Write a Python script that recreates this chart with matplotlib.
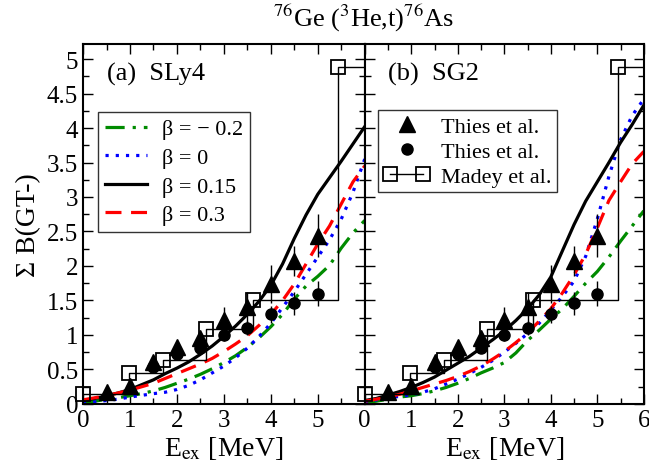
import numpy as np
import matplotlib
matplotlib.use("Agg")
import matplotlib.pyplot as plt
from matplotlib.ticker import MultipleLocator
from matplotlib.lines import Line2D
from matplotlib.legend_handler import HandlerLine2D

plt.rcParams['font.family'] = ['Liberation Serif', 'DejaVu Serif']
plt.rcParams['mathtext.fontset'] = 'stix'

# excitation energy grid for the calculated curves
E = np.arange(0, 6.01, 0.25)

# (a) SLy4
sly4_m02 = [0.02, 0.04, 0.07, 0.09, 0.12, 0.15, 0.19, 0.24, 0.30, 0.36, 0.43, 0.51, 0.60,
            0.70, 0.82, 0.96, 1.12, 1.30, 1.52, 1.71, 1.85, 2.01, 2.26, 2.48, 2.66]
sly4_0 = [0.00, 0.03, 0.05, 0.07, 0.10, 0.125, 0.15, 0.17, 0.21, 0.27, 0.35, 0.45, 0.55,
          0.67, 0.81, 0.98, 1.17, 1.40, 1.63, 1.88, 2.13, 2.38, 2.68, 3.07, 3.55]
sly4_015 = [0.05, 0.08, 0.12, 0.16, 0.21, 0.28, 0.35, 0.44, 0.52, 0.61, 0.72, 0.84, 0.98,
            1.13, 1.30, 1.49, 1.72, 2.03, 2.40, 2.74, 3.04, 3.28, 3.52, 3.77, 4.02]
sly4_03 = [0.06, 0.09, 0.12, 0.16, 0.20, 0.25, 0.30, 0.37, 0.44, 0.51, 0.58, 0.66, 0.76,
           0.87, 0.99, 1.14, 1.30, 1.50, 1.74, 2.03, 2.32, 2.58, 2.90, 3.22, 3.45]

# (b) SG2
sg2_m02 = [0.02, 0.04, 0.07, 0.10, 0.12, 0.15, 0.19, 0.24, 0.30, 0.37, 0.45, 0.52, 0.60,
           0.74, 0.92, 1.07, 1.23, 1.38, 1.56, 1.75, 1.92, 2.13, 2.36, 2.58, 2.80]
sg2_0 = [0.02, 0.06, 0.09, 0.11, 0.13, 0.17, 0.22, 0.29, 0.36, 0.44, 0.53, 0.63, 0.75,
         0.88, 1.02, 1.17, 1.36, 1.56, 1.78, 2.14, 2.68, 3.30, 3.83, 4.18, 4.42]
sg2_015 = [0.05, 0.08, 0.13, 0.18, 0.24, 0.31, 0.39, 0.49, 0.59, 0.69, 0.81, 0.93, 1.06,
           1.21, 1.38, 1.58, 1.84, 2.22, 2.60, 2.94, 3.22, 3.50, 3.79, 4.05, 4.33]
sg2_03 = [0.04, 0.07, 0.10, 0.14, 0.19, 0.24, 0.29, 0.34, 0.40, 0.47, 0.55, 0.65, 0.76,
          0.89, 1.03, 1.20, 1.38, 1.61, 1.87, 2.17, 2.55, 2.95, 3.22, 3.48, 3.66]

# experiment
thies_tri_x = [0.5, 1.0, 1.5, 2.0, 2.5, 3.0, 3.5, 4.0, 4.5, 5.0]
thies_tri_y = [0.17, 0.26, 0.61, 0.82, 0.95, 1.21, 1.40, 1.74, 2.07, 2.44]
thies_tri_err = [0.03, 0.04, 0.08, 0.08, 0.10, 0.19, 0.23, 0.28, 0.22, 0.31]
thies_circ_x = [1.5, 2.0, 2.5, 3.0, 3.5, 4.0, 4.5, 5.0]
thies_circ_y = [0.53, 0.72, 0.81, 1.00, 1.10, 1.30, 1.46, 1.60]
thies_circ_err = [0.04, 0.05, 0.06, 0.08, 0.10, 0.12, 0.17, 0.18]
madey_x = [0.0, 0.98, 1.70, 2.62, 3.62, 5.44]
madey_y = [0.14, 0.45, 0.64, 1.08, 1.51, 4.88]

labels = ['β = − 0.2', 'β = 0', 'β = 0.15', 'β = 0.3']
colors = ['#008b00', 'blue', 'black', 'red']
styles = [(0, (6, 2.5, 1, 2.5)), (0, (1, 2.2)), '-', (0, (5, 3))]
panels = [('(a)  SLy4', [sly4_m02, sly4_0, sly4_015, sly4_03]),
          ('(b)  SG2', [sg2_m02, sg2_0, sg2_015, sg2_03])]

fig = plt.figure(figsize=(6.49, 4.77), dpi=100)
ax1 = fig.add_axes([0.128, 0.151, 0.434, 0.755])
ax2 = fig.add_axes([0.562, 0.151, 0.430, 0.755], sharey=ax1)

for ax, (name, curves) in zip([ax1, ax2], panels):
    ax.set_xlim(0, 6)
    ax.set_ylim(0, 5.22)
    curve_lines = []
    for yv, lab, c, ls in zip(curves, labels, colors, styles):
        ln, = ax.plot(E, yv, color=c, ls=ls, lw=2.3, label=lab)
        curve_lines.append(ln)
    # Madey et al. step histogram
    sx = madey_x + [ax.get_xlim()[1]]
    sy = madey_y + [madey_y[-1]]
    ax.plot(sx, sy, drawstyle='steps-post', color='black', lw=1.0)
    ax.plot(madey_x, madey_y, 's', ms=10, mfc='none', mec='black', mew=1.3, clip_on=False, zorder=5)
    ax.errorbar(thies_tri_x, thies_tri_y, yerr=thies_tri_err, fmt='^', ms=12, color='black',
                elinewidth=1.0, capsize=0, zorder=6)
    ax.errorbar(thies_circ_x, thies_circ_y, yerr=thies_circ_err, fmt='o', ms=8, color='black',
                elinewidth=1.0, capsize=0, zorder=6)
    ax.text(0.084, 0.917, name, transform=ax.transAxes, fontsize=19, va='center', ha='left')
    ax.xaxis.set_major_locator(MultipleLocator(1))
    ax.xaxis.set_minor_locator(MultipleLocator(0.5))
    ax.yaxis.set_major_locator(MultipleLocator(0.5))
    ax.yaxis.set_minor_locator(MultipleLocator(0.25))
    ax.tick_params(which='both', direction='in', top=True, right=True, labelsize=18, width=1.0)
    ax.tick_params(which='major', length=7)
    ax.tick_params(which='minor', length=4)
    for s in ax.spines.values():
        s.set_linewidth(1.5)
    ax.set_xlabel(r'E$_\mathrm{ex}$ [MeV]', fontsize=20, labelpad=2)
    if ax is ax1:
        leg = ax.legend(handles=curve_lines, loc='upper left', bbox_to_anchor=(0.053, 0.81),
                        fontsize=16, handlelength=1.9, frameon=True, fancybox=False,
                        edgecolor='black', borderpad=0.3, labelspacing=0.36, handletextpad=0.7,
                        borderaxespad=0)
        leg.get_frame().set_linewidth(1.0)

ax1.set_xticks([0, 1, 2, 3, 4, 5, 6])
ax1.set_xticklabels(['0', '1', '2', '3', '4', '5', ''])
ax1.set_yticks(np.arange(0, 5.01, 0.5))
ax1.set_yticklabels(['0', '0.5', '1', '1.5', '2', '2.5', '3', '3.5', '4', '4.5', '5'])
plt.setp(ax2.get_yticklabels(), visible=False)
ax1.set_ylabel('Σ B(GT-)', fontsize=20, labelpad=4)

exp_handles = [Line2D([], [], marker='^', ls='none', color='black', ms=12),
               Line2D([], [], marker='o', ls='none', color='black', ms=8),
               Line2D([], [], marker='s', ls='-', color='black', ms=10, mfc='none', lw=1.0, mew=1.3)]
leg2 = ax2.legend(exp_handles, ['Thies et al.', 'Thies et al.', 'Madey et al.'],
                  loc='upper left', bbox_to_anchor=(0.047, 0.815), fontsize=16,
                  handlelength=2.1, frameon=True, fancybox=False, edgecolor='black',
                  borderpad=0.25, labelspacing=0.2, handletextpad=0.5, borderaxespad=0,
                  handler_map={exp_handles[0]: HandlerLine2D(numpoints=1),
                               exp_handles[1]: HandlerLine2D(numpoints=1),
                               exp_handles[2]: HandlerLine2D(numpoints=2)})
leg2.get_frame().set_linewidth(1.0)

fig.text(0.560, 0.962, r'$^{76}$Ge ($^{3}$He,t)$^{76}$As', fontsize=19, ha='center', va='center')

fig.savefig('out.png', dpi=100)
